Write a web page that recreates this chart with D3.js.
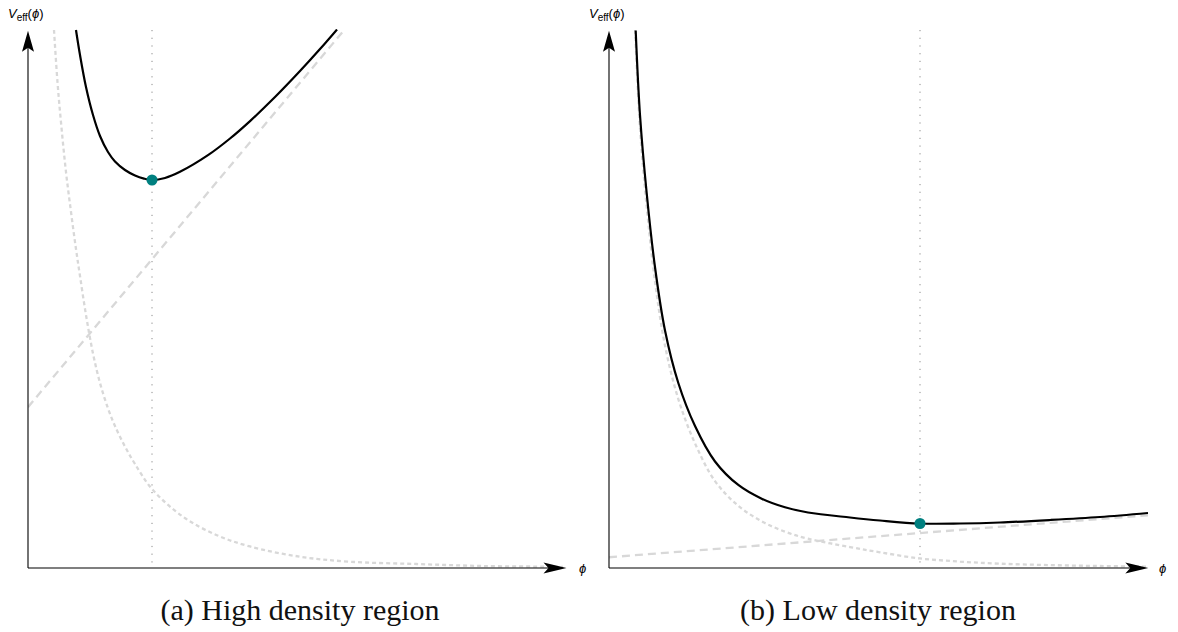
<!DOCTYPE html>
<html><head><meta charset="utf-8">
<script src="https://cdn.jsdelivr.net/npm/d3@7/dist/d3.min.js"></script>
<style>body{margin:0;background:#fff}</style>
</head><body>
<svg id="chart" width="1178" height="632"></svg>
<script>
// ---------- DATA (axes run 0..10 in both directions) ----------
const captions = ["(a) High density region", "(b) Low density region"];
const xLabel = "\u03D5";
const yLabelMain = "V", yLabelSub = "eff", yLabelArg = "\u03D5";

// Panel (a): high density
const aTotalPhi = [0.897, 0.972, 1.084, 1.215, 1.346, 1.495, 1.626, 1.813, 2.000, 2.168, 2.318, 2.561, 2.841, 3.364, 3.776, 4.150, 4.617, 5.084, 5.458, 5.776];
const aTotalV   = [10.000, 9.535, 8.941, 8.420, 8.030, 7.732, 7.556, 7.398, 7.296, 7.238, 7.212, 7.249, 7.364, 7.673, 7.983, 8.307, 8.753, 9.236, 9.645, 10.009];
const aFieldPhi = [0.486, 0.551, 0.622, 0.710, 0.804, 0.897, 0.972, 1.084, 1.215, 1.346, 1.495, 1.626, 1.813, 2.000, 2.318, 2.901, 3.531, 4.150, 5.084, 6.019, 7.265, 8.505, 9.757, 10.0];
const aFieldV   = [10.000, 9.033, 8.227, 7.361, 6.617, 5.929, 5.428, 4.703, 3.987, 3.439, 2.967, 2.639, 2.257, 1.933, 1.468, 0.950, 0.610, 0.400, 0.210, 0.117, 0.074, 0.037, 0.024, 0.019];
const aDensPhi  = [0, 5.91];
const aDensV    = [2.99, 10.0];
const aMinPhi = 2.318, aMinV = 7.212;

// Panel (b): low density
const bTotalPhi = [0.495, 0.575, 0.699, 0.853, 1.039, 1.286, 1.596, 1.967, 2.399, 2.833, 3.265, 3.692, 4.471, 5.028, 5.770, 6.512, 7.254, 8.182, 9.109, 10.0];
const bTotalV   = [9.991, 8.420, 6.970, 5.595, 4.415, 3.439, 2.639, 1.980, 1.543, 1.288, 1.128, 1.032, 0.939, 0.883, 0.827, 0.827, 0.846, 0.892, 0.948, 1.022];
const bFieldPhi = [0.484, 0.575, 0.699, 0.853, 1.039, 1.286, 1.596, 1.967, 2.399, 2.833, 3.265, 3.692, 4.471, 5.028, 5.770, 6.512, 7.254, 8.182, 9.109, 10.0];
const bFieldV   = [10.000, 8.177, 6.717, 5.329, 4.134, 3.140, 2.316, 1.615, 1.156, 0.868, 0.675, 0.545, 0.390, 0.292, 0.177, 0.119, 0.080, 0.054, 0.037, 0.026];
const bDensPhi  = [0, 10.0];
const bDensV    = [0.20, 0.98];
const bMinPhi = 5.770, bMinV = 0.827;

// ---------- LAYOUT ----------
const svg = d3.select("#chart");
const zip = (xs, ys) => xs.map((x, i) => [x, ys[i]]);

const panels = [
  { x0: 28, x1: 563, xTip: 566.5, yBot: 568, yTop: 30, yTip: 30.7, capX: 300, labX: 8, phiX: 579,
    total: zip(aTotalPhi, aTotalV), field: zip(aFieldPhi, aFieldV), dens: zip(aDensPhi, aDensV),
    min: [aMinPhi, aMinV], caption: captions[0] },
  { x0: 609, x1: 1148, xTip: 1148.3, yBot: 568, yTop: 30, yTip: 30.7, capX: 878, labX: 589, phiX: 1159,
    total: zip(bTotalPhi, bTotalV), field: zip(bFieldPhi, bFieldV), dens: zip(bDensPhi, bDensV),
    min: [bMinPhi, bMinV], caption: captions[1] }
];

panels.forEach((p, i) => {
  const x = d3.scaleLinear().domain([0, 10]).range([p.x0, p.x1]);
  const y = d3.scaleLinear().domain([0, 10]).range([p.yBot, p.yTop]);
  const g = svg.append("g");
  const clipId = "clip" + i;
  svg.append("defs").append("clipPath").attr("id", clipId)
    .append("rect").attr("x", p.x0).attr("y", p.yTop - 1).attr("width", p.xTip - p.x0).attr("height", p.yBot - p.yTop + 1);

  const line = d3.line().x(d => x(d[0])).y(d => y(d[1])).curve(d3.curveCatmullRom.alpha(0.5));
  const plot = g.append("g").attr("clip-path", `url(#${clipId})`);

  // vertical marker at the minimum
  plot.append("line")
    .attr("x1", x(p.min[0])).attr("x2", x(p.min[0]))
    .attr("y1", y(10)).attr("y2", y(0))
    .attr("stroke", "#8a8a8a").attr("stroke-width", 1).attr("stroke-dasharray", "1.2 6.5");

  // density term (dashed)
  plot.append("path").datum(p.dens).attr("d", d3.line().x(d => x(d[0])).y(d => y(d[1])))
    .attr("fill", "none").attr("stroke", "#d8d8d8").attr("stroke-width", 2.3).attr("stroke-dasharray", "8 5");

  // field term (dotted)
  plot.append("path").datum(p.field).attr("d", line)
    .attr("fill", "none").attr("stroke", "#d8d8d8").attr("stroke-width", 2.3).attr("stroke-dasharray", "4 3");

  // effective potential (solid)
  plot.append("path").datum(p.total).attr("d", line)
    .attr("fill", "none").attr("stroke", "#000").attr("stroke-width", 2.2);

  // axes
  g.append("line").attr("x1", p.x0).attr("y1", p.yBot).attr("x2", p.xTip - 8).attr("y2", p.yBot)
    .attr("stroke", "#000").attr("stroke-width", 1.1);
  g.append("line").attr("x1", p.x0).attr("y1", p.yBot).attr("x2", p.x0).attr("y2", p.yTip + 8)
    .attr("stroke", "#000").attr("stroke-width", 1.1);
  // arrowheads (stealth style)
  const L = 23, W = 5.5, I = 5;
  g.append("path")
    .attr("d", `M${p.xTip},${p.yBot} L${p.xTip - L},${p.yBot - W} L${p.xTip - L + I},${p.yBot} L${p.xTip - L},${p.yBot + W} Z`)
    .attr("fill", "#000");
  g.append("path")
    .attr("d", `M${p.x0},${p.yTip} L${p.x0 - 6},${p.yTip + 21} L${p.x0},${p.yTip + 17} L${p.x0 + 6},${p.yTip + 21} Z`)
    .attr("fill", "#000");

  // minimum point
  g.append("circle").attr("cx", x(p.min[0])).attr("cy", y(p.min[1])).attr("r", 5.5).attr("fill", "#008080");

  // axis labels
  const font = "'Liberation Sans', Arial, 'DejaVu Sans', sans-serif";
  g.append("text").attr("x", p.phiX).attr("y", p.yBot + 5)
    .attr("font-family", font).attr("font-size", 13).attr("font-style", "italic").text(xLabel);
  const yl = g.append("text").attr("x", p.labX).attr("y", 18).attr("font-family", font).attr("font-size", 13);
  yl.append("tspan").attr("font-style", "italic").text(yLabelMain);
  yl.append("tspan").attr("font-size", 10).attr("dy", 2.5).text(yLabelSub);
  yl.append("tspan").attr("dy", -2.5).text("(");
  yl.append("tspan").attr("font-style", "italic").text(yLabelArg);
  yl.append("tspan").text(")");

  // caption
  g.append("text").attr("x", p.capX).attr("y", 620).attr("text-anchor", "middle")
    .attr("font-family", "'Liberation Serif', 'Times New Roman', serif").attr("font-size", 30)
    .attr("fill", "#111").text(p.caption);
});
</script>
</body></html>
